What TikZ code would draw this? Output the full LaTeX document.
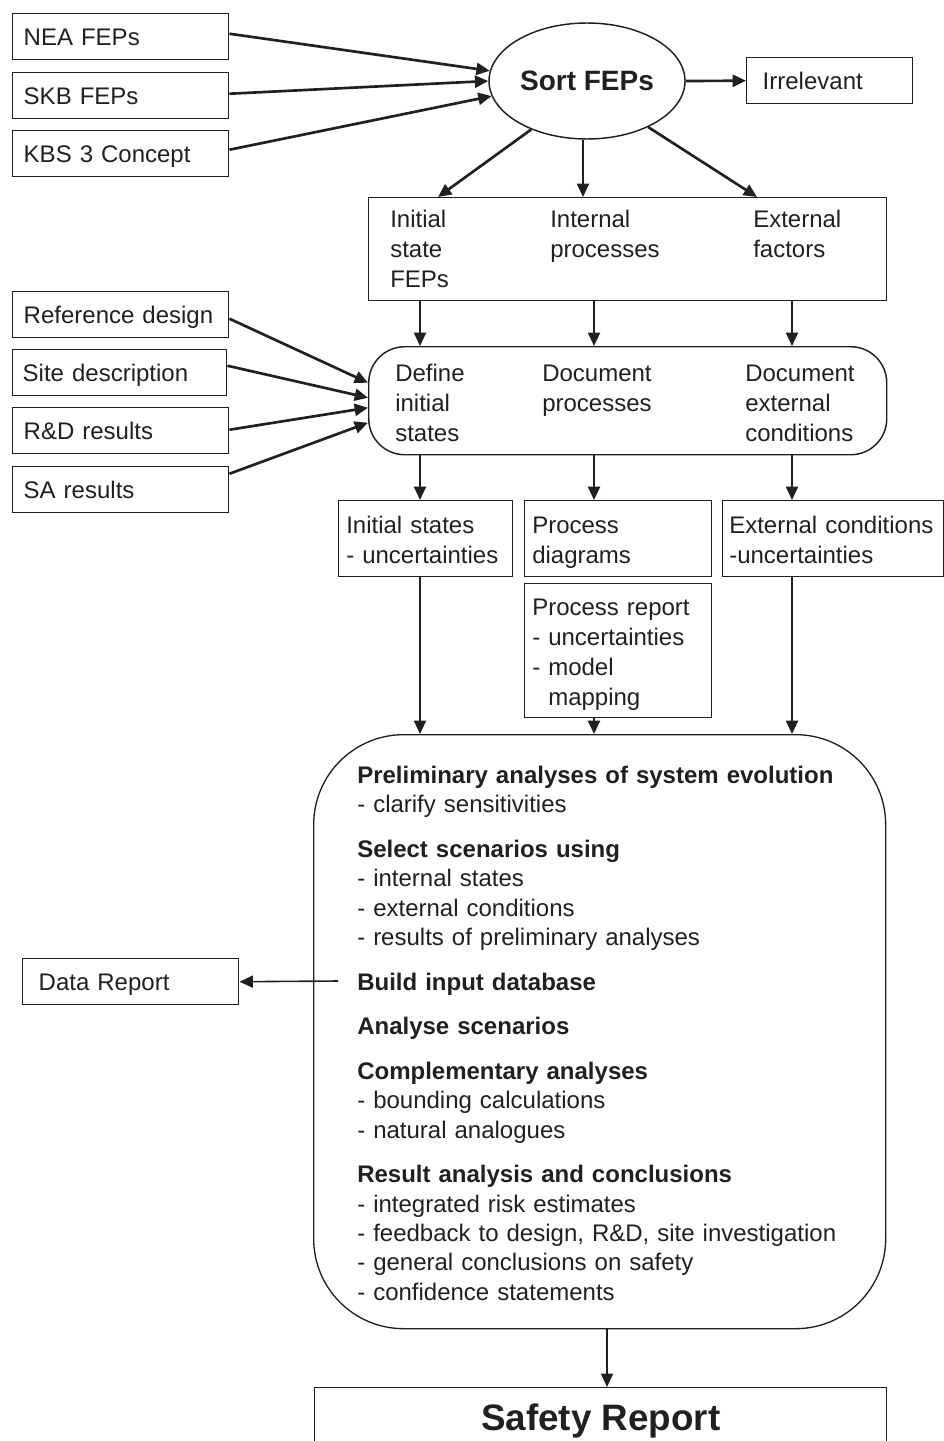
\documentclass[tikz,border=0pt]{standalone}
\usepackage{fontspec}
\setmainfont{Liberation Sans}
\usetikzlibrary{arrows.meta,shapes.geometric,calc}
\definecolor{ink}{RGB}{35,31,32}

\begin{document}
\begin{tikzpicture}[x=0.75pt,y=-0.75pt,
  every node/.style={text=ink},
  boxfont/.style={font=\fontsize{18}{22.5}\selectfont},
  inbox/.style={draw=ink, line width=1.1pt, boxfont, align=left,
    anchor=north west, inner xsep=8.25pt, text width=145.5pt,
    minimum height=34.5pt, text height=13pt, text depth=0pt},
  frame/.style={draw=ink, line width=1.1pt, anchor=north west, inner sep=0pt},
  coltext/.style={boxfont, align=left, anchor=base west, inner sep=0pt, text width=170pt},
  tip/.style={-{Triangle[length=10pt,width=9pt]}, draw=ink},
  heavy/.style={tip, line width=2pt},
  medium/.style={tip, line width=1.5pt},
  light/.style={tip, line width=1.2pt}]

\useasboundingbox (0,0) rectangle (944,1441);
\begin{scope}
\clip (0,0) rectangle (944,1441);

% column positions of the vertical connectors
\coordinate (colA) at (420,0);
\coordinate (colB) at (594,0);
\coordinate (colC) at (792,0);
\coordinate (colD) at (607,0);
\coordinate (tipL) at (438,0);
\coordinate (tipM) at (583,0);
\coordinate (tipR) at (757,0);
\coordinate (dbtail) at (338,981);

% FEP sources
\node[inbox] (nea) at (12,13) {NEA FEPs};
\node[inbox] (skb) at (12,72) {SKB FEPs};
\node[inbox] (kbs) at (12,130) {KBS 3 Concept};

% sorting
\node[draw=ink, ellipse, line width=1.1pt, minimum width=147pt, minimum height=87pt,
  inner sep=0pt, font=\bfseries\fontsize{21}{25}\selectfont,
  text height=15pt, text depth=0pt] (sort) at (587,81) {Sort FEPs};
\node[inbox, inner xsep=12pt, text width=100.5pt] (irr) at (746,57) {Irrelevant};

% FEP categories
\node[frame, minimum width=388.5pt, minimum height=77.25pt] (cats) at (368,197) {};
\node[coltext] (catA) at (390,227.6) {Initial\\state\\FEPs};
\node[coltext] (catB) at (550,227.6) {Internal\\processes};
\node[coltext] (catC) at (753,227.6) {External\\factors};

% further inputs
\node[inbox] (ref) at (12,291) {Reference design};
\node[inbox, inner xsep=7.5pt] (site) at (12,349) {Site description};
\node[inbox] (rnd) at (12,407) {R\&D results};
\node[inbox] (sa) at (12,466) {SA results};

% documentation step
\node[frame, rounded corners=27pt, minimum width=388.5pt, minimum height=81pt] (define) at (368,346) {};
\node[coltext] (defA) at (395,381.6) {Define\\initial\\states};
\node[coltext] (defB) at (542,381.6) {Document\\processes};
\node[coltext] (defC) at (745,381.6) {Document\\external\\conditions};

% documents produced
\node[frame, minimum width=130.5pt, minimum height=57pt] (inist) at (338,500) {};
\node[coltext] (inistT) at (346,533.6) {Initial states\\- uncertainties};
\node[frame, minimum width=140.25pt, minimum height=57pt] (procdiag) at (524,500) {};
\node[coltext] (procdiagT) at (532,533.6) {Process\\diagrams};
\node[frame, minimum width=165.75pt, minimum height=57pt] (extcond) at (722,500) {};
\node[coltext] (extcondT) at (729,533.6) {External conditions\\-uncertainties};
\node[frame, minimum width=140.25pt, minimum height=100.5pt] (procrep) at (524,583) {};
\node[coltext] (procrepT) at (532,615.6) {Process report\\- uncertainties\\- model\\\phantom{- }mapping};

% analysis
\node[frame, line width=1pt, rounded corners=67.5pt, minimum width=429pt, minimum height=445.5pt] (bigbox) at (313,734) {};
\node[coltext, text width=390pt, font=\fontsize{18}{22}\selectfont] (bigT) at (357,783.6)
  {\textbf{Preliminary analyses of system evolution}\\
   - clarify sensitivities\\[11.5pt]
   \textbf{Select scenarios using}\\
   - internal states\\
   - external conditions\\
   - results of preliminary analyses\\[11.5pt]
   \textbf{Build input database}\\[11.5pt]
   \textbf{Analyse scenarios}\\[11.5pt]
   \textbf{Complementary analyses}\\
   - bounding calculations\\
   - natural analogues\\[11.5pt]
   \textbf{Result analysis and conclusions}\\
   - integrated risk estimates\\
   - feedback to design, R\&D, site investigation\\
   - general conclusions on safety\\
   - confidence statements};

\node[inbox, inner xsep=12pt, text width=138pt] (datarep) at (22,958) {Data Report};

\node[frame, minimum width=429pt, minimum height=45pt,
  font=\bfseries\fontsize{27.6}{32}\selectfont, text height=19.8pt, text depth=0pt] (safety) at (314,1387) {Safety Report};

% connectors: sources to sorting
\draw[heavy] ($(nea.east)+(0,-3)$) -- (sort.174);
\draw[heavy] ($(skb.east)+(0,-2)$) -- (sort.180);
\draw[heavy] ($(kbs.east)+(0,-4)$) -- (sort.189);
\draw[heavy] (sort.east) -- (irr.west);
\draw[heavy] (sort.221) -- (cats.north -| tipL);
\draw[medium] (sort.south -| tipM) -- (cats.north -| tipM);
\draw[heavy] (sort.323) -- (cats.north -| tipR);

% categories to documentation step
\draw[medium] (cats.south -| colA) -- (define.north -| colA);
\draw[medium] (cats.south -| colB) -- (define.north -| colB);
\draw[medium] (cats.south -| colC) -- (define.north -| colC);

% inputs to documentation step
\draw[heavy] ($(ref.east)+(0,4)$) -- ($(define.west)+(0,-18)$);
\draw[heavy] ($(site.east)+(0,-7)$) -- ($(define.west)+(0,-3)$);
\draw[heavy] ($(rnd.east)+(0,-1)$) -- ($(define.west)+(0,7)$);
\draw[heavy] ($(sa.east)+(0,-16)$) -- ($(define.west)+(0,22)$);

% documentation step to documents
\draw[medium] (define.south -| colA) -- (inist.north -| colA);
\draw[medium] (define.south -| colB) -- (procdiag.north -| colB);
\draw[medium] (define.south -| colC) -- (extcond.north -| colC);

% documents to analysis
\draw[medium] (inist.south -| colA) -- (bigbox.north -| colA);
\draw[medium] (procrep.south -| colB) -- (bigbox.north -| colB);
\draw[medium] (extcond.south -| colC) -- (bigbox.north -| colC);

% analysis outputs
\draw[light] (dbtail) -- (datarep.east);
\draw[light] (bigbox.south -| colD) -- (safety.north -| colD);
\end{scope}
\end{tikzpicture}
\end{document}
